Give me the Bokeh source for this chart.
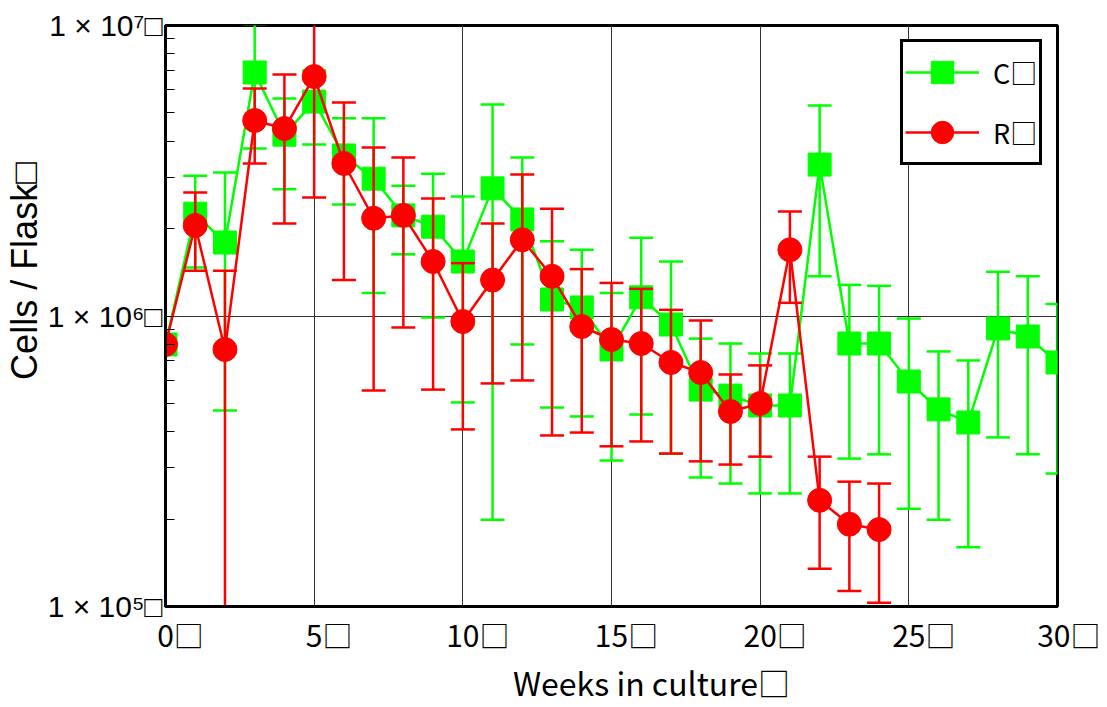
from bokeh.plotting import figure
from bokeh.models import FixedTicker, Legend, LegendItem
from bokeh.embed import file_html
from bokeh.resources import INLINE

# ---------------- data ----------------
weeks_c = list(range(31))
cells_c = [7.98e5, 2.25e6, 1.79e6, 6.89e6, 4.21e6, 5.47e6, 3.57e6, 2.97e6, 2.22e6, 2.03e6,
           1.54e6, 2.75e6, 2.15e6, 1.14e6, 1.07e6, 7.67e5, 1.16e6, 9.35e5, 5.58e5, 5.32e5,
           4.92e5, 4.92e5, 3.32e6, 8.04e5, 8.04e5, 5.95e5, 4.77e5, 4.30e5, 9.06e5, 8.50e5,
           6.92e5]
# error bars for weeks 1..30
c_upper = [3.04e6, 3.12e6, 1.01e7, 5.61e6, 7.00e6, 4.79e6, 4.79e6, 2.81e6, 3.09e6, 2.58e6,
           5.35e6, 3.51e6, 1.81e6, 1.69e6, 1.20e6, 1.86e6, 1.54e6, 8.36e5, 8.04e5, 7.43e5,
           7.43e5, 5.30e6, 1.28e6, 1.27e6, 9.80e5, 7.55e5, 7.03e5, 1.42e6, 1.37e6, 1.10e6]
c_lower = [1.47e6, 4.73e5, 3.77e6, 2.73e6, 3.89e6, 2.42e6, 1.20e6, 1.63e6, 9.88e5, 5.04e5,
           1.99e5, 7.98e5, 4.84e5, 4.51e5, 3.18e5, 4.58e5, 3.36e5, 2.78e5, 2.65e5, 2.45e5,
           2.45e5, 1.37e6, 3.23e5, 3.34e5, 2.17e5, 1.99e5, 1.60e5, 3.82e5, 3.34e5, 2.87e5]

weeks_r = list(range(25))
cells_r = [7.98e5, 2.05e6, 7.67e5, 4.71e6, 4.42e6, 6.67e6, 3.35e6, 2.17e6, 2.22e6, 1.54e6,
           9.57e5, 1.33e6, 1.83e6, 1.37e6, 9.20e5, 8.30e5, 8.04e5, 6.92e5, 6.39e5, 4.69e5,
           5.00e5, 1.69e6, 2.32e5, 1.92e5, 1.84e5]
# error bars for weeks 1..24
r_upper = [2.66e6, 1.43e6, 6.07e6, 6.78e6, 1.08e7, 5.43e6, 3.80e6, 3.51e6, 2.54e6, 1.52e6,
           2.08e6, 3.07e6, 2.34e6, 1.45e6, 1.30e6, 1.24e6, 1.05e6, 9.65e5, 6.29e5, 6.76e5,
           2.29e6, 3.28e5, 2.69e5, 2.65e5]
r_lower = [1.43e6, 9.8e4, 3.35e6, 2.08e6, 2.56e6, 1.33e6, 5.54e5, 9.13e5, 5.58e5, 4.07e5,
           5.86e5, 6.00e5, 3.88e5, 3.97e5, 3.56e5, 3.70e5, 3.36e5, 3.16e5, 3.08e5, 3.28e5,
           1.11e6, 1.35e5, 1.13e5, 1.03e5]

x_ticks = [0, 5, 10, 15, 20, 25, 30]
x_tick_labels = ["0□", "5□", "10□", "15□", "20□", "25□", "30□"]
y_ticks = [100000, 1000000, 10000000]
y_tick_labels = ["1 × 10⁵□", "1 × 10⁶□", "1 × 10⁷□"]
y_minor = [m * 10 ** e for e in (5, 6) for m in range(2, 10)]
series_labels = ["C□", "R□"]
x_title = "Weeks in culture□"
y_title = "Cells / Flask□"

GREEN = "#00ff00"
RED = "#ff0000"
CJK = "Noto Sans CJK JP"
SANS = "Liberation Sans"

p = figure(width=1100, height=707, x_range=(0, 30), y_range=(1e5, 1e7),
           y_axis_type="log", output_backend="svg", toolbar_location=None,
           min_border_left=165, min_border_right=43, min_border_top=25,
           min_border_bottom=101)
p.background_fill_color = "white"
p.border_fill_color = "white"
p.outline_line_color = "black"
p.outline_line_width = 3

p.xaxis.ticker = FixedTicker(ticks=x_ticks)
p.yaxis.ticker = FixedTicker(ticks=y_ticks, minor_ticks=y_minor)
# a leading space shifts each centred label so the number sits on its tick
p.xaxis.major_label_overrides = {t: "\u3000" + lab for t, lab in zip(x_ticks, x_tick_labels)}
p.yaxis.major_label_overrides = dict(zip(y_ticks, y_tick_labels))

for ax in (p.xaxis, p.yaxis):
    ax.axis_line_width = 3
    ax.axis_line_color = "black"
    ax.major_tick_out = 0
    ax.minor_tick_out = 0
    ax.major_label_text_color = "black"
    ax.axis_label_text_color = "black"
    ax.axis_label_text_font_style = "normal"

p.xaxis.major_tick_in = 0
p.xaxis.minor_tick_in = 0
p.xaxis.major_label_text_font = CJK
p.xaxis.major_label_text_font_size = "30px"
p.xaxis.major_label_standoff = 5
p.xaxis.axis_label = "\u2003\u2003\u2002" + x_title
p.xaxis.axis_label_text_font = CJK
p.xaxis.axis_label_text_font_size = "32px"
p.xaxis.axis_label_standoff = 0

p.yaxis.major_tick_in = 9
p.yaxis.minor_tick_in = 9
p.yaxis.minor_tick_line_color = "black"
p.yaxis.minor_tick_line_width = 1.2
p.yaxis.major_tick_line_width = 1.2
p.yaxis.major_label_text_font = SANS
p.yaxis.major_label_text_font_size = "30px"
p.yaxis.major_label_standoff = 3
p.yaxis.axis_label = "\u2003\u2003\u2002" + y_title
p.yaxis.axis_label_text_font = SANS
p.yaxis.axis_label_text_font_size = "36px"
p.yaxis.axis_label_standoff = 0

p.xgrid.grid_line_color = "#333333"
p.xgrid.grid_line_width = 1
p.ygrid.grid_line_color = "#333333"
p.ygrid.grid_line_width = 1

# ------------- series C (green) -------------
xe_c = weeks_c[1:]
p.segment(xe_c, c_lower, xe_c, c_upper, line_color=GREEN, line_width=2.5)
p.scatter(xe_c, c_upper, marker="dash", size=24, line_color=GREEN, line_width=2.5)
p.scatter(xe_c, c_lower, marker="dash", size=24, line_color=GREEN, line_width=2.5)
c_line = p.line(weeks_c, cells_c, line_color=GREEN, line_width=2.5)
c_mark = p.scatter(weeks_c, cells_c, marker="square", size=23, fill_color=GREEN,
                   line_color=GREEN, line_width=1)

# ------------- series R (red) -------------
xe_r = weeks_r[1:]
p.segment(xe_r, r_lower, xe_r, r_upper, line_color=RED, line_width=2.5)
p.scatter(xe_r, r_upper, marker="dash", size=24, line_color=RED, line_width=2.5)
p.scatter(xe_r, r_lower, marker="dash", size=24, line_color=RED, line_width=2.5)
r_line = p.line(weeks_r, cells_r, line_color=RED, line_width=2.5)
r_mark = p.scatter(weeks_r, cells_r, marker="circle", size=24, fill_color=RED,
                   line_color=RED, line_width=1)

# ------------- legend -------------
legend = Legend(items=[LegendItem(label=series_labels[0], renderers=[c_line, c_mark]),
                       LegendItem(label=series_labels[1], renderers=[r_line, r_mark])],
                location=(735, 441), margin=0, padding=2, spacing=4,
                glyph_width=74, glyph_height=56, label_standoff=14, label_width=44,
                label_text_font=CJK, label_text_font_size="27px",
                label_text_color="black",
                border_line_color="black", border_line_width=3, border_line_alpha=1.0,
                background_fill_color="white", background_fill_alpha=1.0)
p.add_layout(legend)

open("out.html", "w").write(file_html(p, INLINE))
